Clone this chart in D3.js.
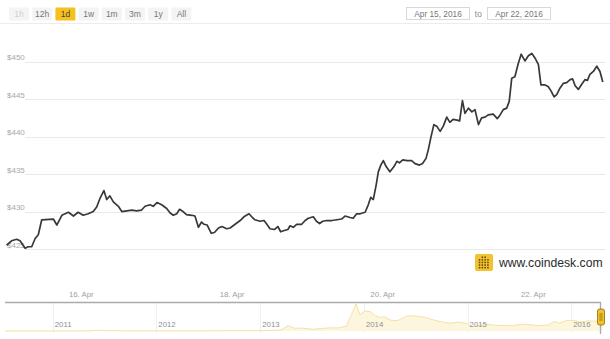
<!DOCTYPE html>
<html><head><meta charset="utf-8">
<script src="https://cdn.jsdelivr.net/npm/d3@7"></script>
<style>
body{margin:0;background:#fff}
svg{display:block;font-family:"Liberation Sans",Arial,sans-serif}
</style>
</head><body>
<svg id="chart" width="610" height="339"></svg>
<script>
// ---------- data ----------
const rangeButtons = ["1h","12h","1d","1w","1m","3m","1y","All"];
const selectedButton = "1d";
const disabledButtons = ["1h"];
const dateFrom = "Apr 15, 2016";
const dateTo = "Apr 22, 2016";
const startTime = "2016-04-15T00:00:00Z";
// hours after start, and USD price
const hours = [0.2,1.8,3.4,4.5,6.1,7.1,8.2,9.3,10.3,11.4,
15.1,16.2,17.8,19.9,21.5,23.0,24.6,26.2,27.8,28.9,
30.0,31.2,32.1,33.1,34.2,35.8,36.9,38.5,40.1,41.6,
43.2,44.3,45.9,46.9,48.1,49.6,51.2,52.3,53.3,54.4,
55.3,56.4,57.5,59.2,60.2,61.3,62.3,63.1,64.1,65.4,
66.4,67.7,68.8,70.3,71.4,73.0,74.6,75.8,77.4,78.3,
79.3,80.9,82.2,83.1,84.1,85.5,86.6,87.5,88.9,89.8,
90.5,91.5,92.6,94.2,95.3,96.3,97.9,98.9,99.9,100.9,
102.2,103.8,105.4,106.9,108.0,109.6,110.6,111.7,112.8,114.4,
115.4,116.2,117.0,117.9,118.6,119.4,120.2,121.1,122.3,123.6,
124.5,125.3,126.4,127.8,129.2,130.3,131.7,132.7,133.8,134.5,
135.4,136.3,137.2,138.3,139.3,140.4,141.4,142.4,143.7,144.5,
145.4,146.2,147.3,148.4,149.4,150.5,151.5,152.6,153.6,155.2,
156.5,157.4,158.4,159.5,160.3,161.1,162.1,163.2,164.1,165.3,
166.4,167.5,168.5,169.6,170.4,171.7,172.7,173.6,174.6,175.4,
176.5,177.5,178.6,179.7,180.5,181.3,182.3,183.4,184.4,185.2,
186.0,187.1,188.2,189.2,190.1];
const prices = [425.5,426.1,426.3,426.1,425.1,425.3,425.3,426.4,426.9,428.9,
429.0,428.2,429.5,429.9,429.4,429.9,429.5,429.7,430.0,430.6,
431.8,432.8,431.6,432.1,431.3,430.7,430.0,430.1,430.2,430.1,
430.2,430.7,430.9,430.7,431.2,430.9,430.4,429.8,429.5,429.7,
430.3,430.0,429.6,429.5,429.4,427.9,428.6,428.3,428.2,427.1,
427.2,427.8,428.0,427.7,427.8,428.3,428.8,429.3,429.7,429.3,
428.9,428.7,428.8,428.3,427.7,427.6,428.0,427.3,427.5,427.6,
428.1,427.9,428.3,428.3,428.8,429.1,429.3,428.7,428.4,428.7,
428.8,428.8,428.9,429.0,429.4,429.2,429.1,429.7,429.7,429.9,
430.9,431.9,431.6,433.5,435.3,436.2,436.8,436.0,435.3,436.0,
436.7,436.5,436.9,436.8,436.8,436.4,436.2,436.4,437.1,438.2,
440.0,441.6,441.4,440.7,441.4,442.6,441.9,442.3,442.2,442.1,
444.8,443.1,443.8,443.3,443.6,441.6,442.5,442.6,442.9,443.0,
442.4,442.9,443.6,443.8,444.7,447.8,448.0,449.8,451.0,450.1,
450.8,451.1,450.5,449.6,446.9,446.9,446.7,446.1,445.3,445.6,
446.5,447.1,447.2,447.6,447.7,446.8,446.3,447.0,447.6,447.5,
448.3,448.7,449.4,448.7,447.3];
const yTicks = [425,430,435,440,445,450];
const xTickDates = ["2016-04-16","2016-04-18","2016-04-20","2016-04-22"];
const xDomain = ["2016-04-15","2016-04-23"];

// navigator (all-time history)
const navDates = ["2010-07-17","2010-09-01","2010-11-01","2011-01-01","2011-02-15","2011-04-01","2011-05-15","2011-06-10","2011-07-01","2011-08-01","2011-09-01","2011-10-15","2011-12-01",
"2012-02-01","2012-04-01","2012-06-01","2012-08-01","2012-10-01","2012-12-01","2013-02-01","2013-03-15","2013-04-10","2013-05-01","2013-06-01","2013-07-05","2013-08-01","2013-09-01","2013-10-01","2013-11-01","2013-11-18","2013-12-04","2013-12-18","2014-01-05","2014-01-25","2014-02-10","2014-02-25","2014-03-15","2014-04-10","2014-05-01","2014-06-03","2014-07-01","2014-08-01","2014-09-01","2014-10-01","2014-11-01","2014-12-01","2015-01-01","2015-01-15","2015-02-10","2015-03-10","2015-04-10","2015-05-15","2015-06-15","2015-07-10","2015-08-01","2015-09-01","2015-10-10","2015-11-04","2015-11-20","2015-12-15","2016-01-10","2016-02-01","2016-03-01","2016-04-01","2016-04-22"];
const navPrices = [0.07,0.06,0.28,0.3,0.9,0.8,7,29,15,13,8,4,3,
5.5,4.9,5.2,10,12,13,20,47,230,116,120,70,100,135,130,205,700,1150,700,850,820,650,580,600,440,450,650,640,590,480,390,330,380,315,180,230,290,240,240,240,290,280,230,250,400,330,450,450,380,430,417,447];
const navYears = [2011,2012,2013,2014,2015,2016];
const navDomain = ["2010-07-17","2016-04-22"];

// ---------- drawing ----------
const svg = d3.select("#chart");
const parse = d => new Date(d + (d.length === 10 ? "T00:00:00Z" : ""));
const t0 = new Date(startTime).getTime();
const series = hours.map((h, i) => ({t: new Date(t0 + h * 3600e3), v: prices[i]}));

// header: range buttons
const btn = svg.append("g");
rangeButtons.forEach((b, i) => {
  const g = btn.append("g").attr("transform", `translate(${9 + i * 23.2},7.5)`);
  g.append("rect").attr("width", 20).attr("height", 13).attr("rx", 1)
    .attr("fill", b === selectedButton ? "#f6c11c" : "#f4f4f4");
  g.append("text").attr("x", 10).attr("y", 9.6).attr("text-anchor", "middle")
    .attr("font-size", 8.5)
    .attr("fill", disabledButtons.includes(b) ? "#cfcfcf" : (b === selectedButton ? "#444" : "#777"))
    .text(b);
});
// date inputs
[[dateFrom, 406], [dateTo, 487]].forEach(([s, x]) => {
  svg.append("rect").attr("x", x + 0.5).attr("y", 7.5).attr("width", 63).attr("height", 12)
    .attr("fill", "#fff").attr("stroke", "#d8d8d8");
  svg.append("text").attr("x", x + 32).attr("y", 16.6).attr("text-anchor", "middle")
    .attr("font-size", 8.3).attr("fill", "#777").text(s);
});
svg.append("text").attr("x", 478.3).attr("y", 16.8).attr("text-anchor", "middle")
  .attr("font-size", 8.3).attr("fill", "#888").text("to");
svg.append("line").attr("x1", 0).attr("x2", 610).attr("y1", 23.5).attr("y2", 23.5)
  .attr("stroke", "#ececec");

// main chart scales
const x = d3.scaleUtc().domain(xDomain.map(parse)).range([5.95, 608.75]);
const y = d3.scaleLinear().domain([425, 450]).range([249, 61.7]);

// grid lines
svg.append("g").selectAll("line").data(yTicks).join("line")
  .attr("x1", 25).attr("x2", 605)
  .attr("y1", d => Math.round(y(d)) + 0.5).attr("y2", d => Math.round(y(d)) + 0.5)
  .attr("stroke", "#e9e9e9");

// y labels
svg.append("g").selectAll("text").data(yTicks).join("text")
  .attr("x", 7).attr("y", d => y(d) - 1.5)
  .attr("font-size", 8).attr("fill", "#a8a8a8")
  .text(d => "$" + d);

// x labels
const fmt = d3.utcFormat("%-d. %b");
svg.append("g").selectAll("text").data(xTickDates.map(parse)).join("text")
  .attr("x", d => x(d)).attr("y", 297).attr("text-anchor", "middle")
  .attr("font-size", 7.8).attr("fill", "#a0a0a0")
  .text(d => fmt(d));

// logo
const logo = svg.append("g");
logo.append("rect").attr("x", 475).attr("y", 254).attr("width", 18).attr("height", 17)
  .attr("rx", 2).attr("fill", "#f2c230");
for (let r = 0; r < 5; r++) for (let c = 0; c < 4; c++) {
  if (r === 0 && (c === 0 || c === 3)) continue;
  logo.append("rect").attr("x", 478.8 + c * 2.8).attr("y", 256.5 + r * 2.6)
    .attr("width", 1.5).attr("height", 1.5).attr("fill", "#5b4300");
}
logo.append("text").attr("x", 499).attr("y", 267).attr("font-size", 12.2)
  .attr("fill", "#2a2a2a").attr("font-weight", "500").text("www.coindesk.com");

// price line
svg.append("path").datum(series)
  .attr("fill", "none").attr("stroke", "#383838").attr("stroke-width", 1.7)
  .attr("stroke-linejoin", "round")
  .attr("d", d3.line().x(d => x(d.t)).y(d => y(d.v)));

// navigator
const nx = d3.scaleUtc().domain(navDomain.map(parse)).range([5, 603]);
const ny = d3.scaleLinear().domain([0, 1150]).range([331, 304]);
const navData = navDates.map((d, i) => ({t: parse(d), v: navPrices[i]}));
svg.append("g").selectAll("line").data(navYears).join("line")
  .attr("x1", d => Math.round(nx(new Date(Date.UTC(d, 0, 1)))) + 0.5)
  .attr("x2", d => Math.round(nx(new Date(Date.UTC(d, 0, 1)))) + 0.5)
  .attr("y1", 302).attr("y2", 333).attr("stroke", "#f0f0f0");
svg.append("path").datum(navData)
  .attr("fill", "#fdf6df")
  .attr("d", d3.area().x(d => nx(d.t)).y0(331).y1(d => ny(d.v)));
svg.append("path").datum(navData)
  .attr("fill", "none").attr("stroke", "#f5e2a4").attr("stroke-width", 1)
  .attr("d", d3.line().x(d => nx(d.t)).y(d => ny(d.v)));
svg.append("g").selectAll("text").data(navYears).join("text")
  .attr("x", d => nx(new Date(Date.UTC(d, 0, 1))) + 2).attr("y", 327)
  .attr("font-size", 7.8).attr("fill", "#909090")
  .text(d => d);
// outline
svg.append("path").attr("d", "M5,302.5H600.5V334")
  .attr("fill", "none").attr("stroke", "#aaaaaa").attr("stroke-width", 1.3);
// handle
const h = svg.append("g").attr("transform", "translate(597.5,309)");
h.append("rect").attr("width", 7).attr("height", 16).attr("rx", 2)
  .attr("fill", "#f3c12a").attr("stroke", "#8a6d10").attr("stroke-width", 0.8);
h.append("line").attr("x1", 2.6).attr("x2", 2.6).attr("y1", 4).attr("y2", 12).attr("stroke", "#8a6d10").attr("stroke-width", 0.7);
h.append("line").attr("x1", 4.4).attr("x2", 4.4).attr("y1", 4).attr("y2", 12).attr("stroke", "#8a6d10").attr("stroke-width", 0.7);
</script>
</body></html>
